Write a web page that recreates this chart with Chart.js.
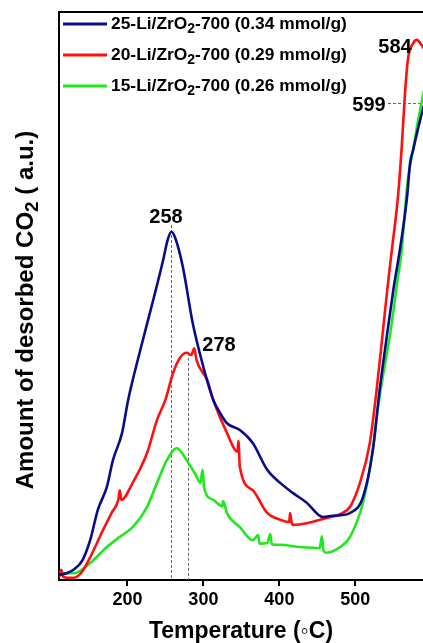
<!DOCTYPE html>
<html>
<head>
<meta charset="utf-8">
<script src="https://cdn.jsdelivr.net/npm/chart.js@4"></script>
<style>
  html, body { margin: 0; padding: 0; background: #fff; overflow: hidden; }
  #wrap { width: 423px; height: 643px; }
</style>
</head>
<body>
<div id="wrap"><canvas id="tpd" width="423" height="643"></canvas></div>
<script>
// CO2-TPD profiles, signal in arbitrary units (0..100 of the plot height)
const xTicks = [200, 300, 400, 500];

const temp25 = [110, 120, 130, 141, 151, 161, 173, 181, 193, 201, 217, 234, 247, 253, 258, 263, 273, 286, 300, 313, 322, 331, 348, 365, 384, 401, 418, 436, 457, 470, 480, 493, 510, 523, 532, 542, 550, 559, 568, 572, 576, 582, 590];
const sig25  = [0.9, 1.2, 1.9, 3.5, 7.0, 12.3, 16.4, 21.1, 25.9, 31.7, 40.5, 49.3, 56.3, 59.9, 61.3, 60.2, 55.1, 45.2, 37.5, 31.7, 29.4, 27.6, 26.4, 24.1, 19.4, 17.1, 15.3, 13.6, 11.1, 11.3, 11.4, 11.8, 14.6, 22.9, 33.5, 43.5, 51.1, 58.5, 67.4, 73.4, 75.7, 79.2, 83.5];

const temp20 = [110, 113, 115, 120, 130, 140, 151, 168, 180, 188, 190, 192, 207, 226, 239, 250, 260, 269, 278, 284, 288, 291, 305, 313, 331, 345, 346, 348, 365, 384, 401, 413, 414, 416, 418, 436, 462, 480, 493, 506, 519, 528, 536, 543, 548, 556, 561, 565, 569, 576, 581, 587, 590];
const sig20  = [0.4, 1.8, 0.6, 0.4, 0.4, 1.4, 4.0, 8.8, 12.0, 14.1, 15.8, 14.1, 17.1, 22.4, 28.2, 31.7, 36.4, 39.1, 40.0, 39.6, 40.8, 38.7, 35.2, 31.7, 25.9, 22.6, 24.5, 19.9, 15.8, 11.8, 10.6, 10.2, 11.8, 10.2, 9.7, 10.0, 10.9, 11.6, 12.9, 17.1, 24.1, 33.5, 43.5, 52.3, 58.1, 67.4, 76.2, 85.0, 91.5, 94.5, 95.1, 94.2, 93.6];

const temp15 = [110, 130, 151, 173, 190, 207, 226, 239, 252, 265, 278, 290, 296, 299, 301, 313, 325, 326, 331, 348, 365, 372, 374, 384, 388, 390, 401, 427, 453, 456, 458, 462, 480, 493, 510, 523, 528, 536, 546, 555, 561, 565, 569, 576, 582, 590];
const sig15  = [1.2, 1.2, 3.0, 5.8, 7.6, 9.3, 12.9, 17.1, 21.1, 23.2, 21.1, 18.5, 17.1, 19.4, 16.2, 14.1, 13.0, 13.9, 11.8, 9.3, 7.0, 7.9, 6.4, 6.5, 8.1, 6.3, 6.2, 5.8, 5.6, 7.7, 5.2, 4.8, 5.8, 7.6, 13.6, 22.9, 28.7, 35.7, 43.5, 52.3, 58.1, 64.6, 70.4, 75.7, 80.5, 86.0];

const seriesNames = ['25-Li/ZrO_2-700 (0.34 mmol/g)', '20-Li/ZrO_2-700 (0.29 mmol/g)', '15-Li/ZrO_2-700 (0.26 mmol/g)'];
const seriesColors = ['#0b0b8a', '#ff1010', '#1ee81e'];

// peak markers: [temperature, signal where the dashed drop line starts]
const peakLabels = ['258', '278'];
const peakDrops = [[258, 62.5], [280, 40.0]];
const edgeLabels = ['584', '599'];
const level599 = 84.0;

const toPts = (xs, ys) => xs.map((x, i) => ({ x: x, y: ys[i] }));

const FONT = '"Liberation Sans", Arial, Helvetica, sans-serif';

// draw text where "_" makes the next character a subscript
function subText(ctx, str, x, y, size) {
  const parts = str.split('_');
  let cx = x;
  ctx.font = 'bold ' + size + 'px ' + FONT;
  ctx.fillText(parts[0], cx, y);
  cx += ctx.measureText(parts[0]).width;
  for (let i = 1; i < parts.length; i++) {
    const sub = parts[i].charAt(0);
    const rest = parts[i].slice(1);
    ctx.font = 'bold ' + Math.round(size * 0.78) + 'px ' + FONT;
    ctx.fillText(sub, cx, y + size * 0.3);
    cx += ctx.measureText(sub).width;
    ctx.font = 'bold ' + size + 'px ' + FONT;
    ctx.fillText(rest, cx, y);
    cx += ctx.measureText(rest).width;
  }
  return cx - x;
}

function subWidth(ctx, str, size) {
  const parts = str.split('_');
  ctx.font = 'bold ' + size + 'px ' + FONT;
  let w = ctx.measureText(parts[0]).width;
  for (let i = 1; i < parts.length; i++) {
    ctx.font = 'bold ' + Math.round(size * 0.78) + 'px ' + FONT;
    w += ctx.measureText(parts[i].charAt(0)).width;
    ctx.font = 'bold ' + size + 'px ' + FONT;
    w += ctx.measureText(parts[i].slice(1)).width;
  }
  return w;
}

const overlay = {
  id: 'overlay',
  beforeDatasetsDraw(chart) {
    const ctx = chart.ctx, xs = chart.scales.x, ys = chart.scales.y;
    const bottom = chart.chartArea.bottom;
    ctx.save();
    ctx.strokeStyle = '#666';
    ctx.lineWidth = 1;
    ctx.setLineDash([3, 2]);
    peakDrops.forEach(([t, v]) => {
      const px = Math.round(xs.getPixelForValue(t)) + 0.5;
      ctx.beginPath();
      ctx.moveTo(px, ys.getPixelForValue(v));
      ctx.lineTo(px, bottom);
      ctx.stroke();
    });
    const hy = Math.round(ys.getPixelForValue(level599)) + 0.5;
    ctx.beginPath();
    ctx.moveTo(388, hy);
    ctx.lineTo(chart.chartArea.right, hy);
    ctx.stroke();
    ctx.restore();
  },
  afterDraw(chart) {
    const ctx = chart.ctx, area = chart.chartArea;
    ctx.save();
    // top frame line
    ctx.strokeStyle = '#000';
    ctx.lineWidth = 2;
    ctx.beginPath();
    ctx.moveTo(area.left - 1, area.top);
    ctx.lineTo(area.right, area.top);
    ctx.stroke();

    ctx.fillStyle = '#000';
    ctx.textBaseline = 'middle';
    ctx.textAlign = 'center';
    ctx.font = 'bold 20px ' + FONT;
    ctx.fillText(peakLabels[0], 166, 217);
    ctx.fillText(peakLabels[1], 219, 345);
    ctx.fillText(edgeLabels[0], 395, 47);
    ctx.fillText(edgeLabels[1], 369, 105);

    // legend
    ctx.textAlign = 'left';
    seriesNames.forEach((name, i) => {
      const y = 24 + i * 31;
      ctx.strokeStyle = seriesColors[i];
      ctx.lineWidth = 3;
      ctx.beginPath();
      ctx.moveTo(63, y);
      ctx.lineTo(107, y);
      ctx.stroke();
      ctx.fillStyle = '#000';
      subText(ctx, name, 111, y, 17.4);
    });

    // y axis title
    const yTitle = 'Amount of desorbed CO_2 ( a.u.)';
    ctx.translate(26, 310);
    ctx.rotate(-Math.PI / 2);
    const w = subWidth(ctx, yTitle, 24);
    subText(ctx, yTitle, -w / 2, 0, 24);
    ctx.restore();
  }
};

new Chart(document.getElementById('tpd'), {
  type: 'line',
  data: {
    datasets: [
      { label: '25', data: toPts(temp25, sig25), borderColor: seriesColors[0] },
      { label: '20', data: toPts(temp20, sig20), borderColor: seriesColors[1] },
      { label: '15', data: toPts(temp15, sig15), borderColor: seriesColors[2] }
    ]
  },
  options: {
    responsive: false,
    animation: false,
    layout: { padding: { top: 12, right: 0, left: 0, bottom: 0 } },
    elements: {
      line: { borderWidth: 2.6, cubicInterpolationMode: 'monotone', fill: false },
      point: { radius: 0 }
    },
    plugins: { legend: { display: false }, tooltip: { enabled: false } },
    scales: {
      x: {
        type: 'linear',
        min: 110,
        max: 589,
        afterBuildTicks: (s) => { s.ticks = xTicks.map(v => ({ value: v })); },
        afterFit: (s) => { s.height = 63; },
        grid: { display: true, drawOnChartArea: false, drawTicks: true, tickLength: 6, lineWidth: 2, color: '#000' },
        border: { display: true, width: 2, color: '#000' },
        ticks: { color: '#000', padding: 3, font: { family: FONT, size: 18, weight: 'bold' } },
        title: {
          display: true,
          text: 'Temperature (\u25E6C)',
          color: '#000',
          padding: { top: 0, bottom: 0 },
          font: { family: FONT, size: 23, weight: 'bold', lineHeight: 1.0 }
        }
      },
      y: {
        min: 0,
        max: 100,
        afterFit: (s) => { s.width = 59; },
        grid: { display: false },
        border: { display: true, width: 2, color: '#000' },
        ticks: { display: false }
      }
    }
  },
  plugins: [overlay]
});
</script>
</body>
</html>
